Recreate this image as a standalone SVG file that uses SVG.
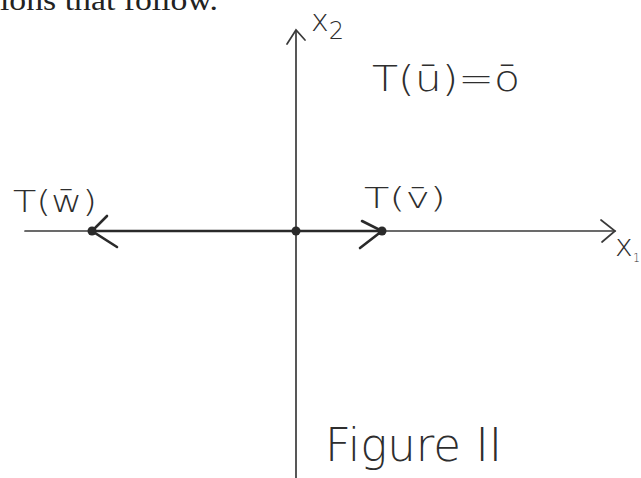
<svg xmlns="http://www.w3.org/2000/svg" width="641" height="478" viewBox="0 0 641 478">
<style>
.ax{stroke:#3a3a3a;stroke-width:1.7;fill:none;stroke-linecap:round}
.vec{stroke:#2a2a2a;stroke-width:2.6;fill:none;stroke-linecap:round}
.hw{font-family:"DejaVu Sans",sans-serif;fill:#2e2e2e;font-weight:300}
.pt{fill:#2a2a2a}
</style>
<rect width="641" height="478" fill="#ffffff"/>
<text x="0" y="10" font-family="Liberation Serif,serif" font-size="30" fill="#222" textLength="218" lengthAdjust="spacingAndGlyphs">ions that follow.</text>
<g id="connectors">
<path class="ax" d="M296,478 V31"/>
<path class="ax" d="M287,44 L296,30 L305,40"/>
<path class="ax" d="M25,231 H615"/>
<path class="ax" d="M601,220 L615,231 L602,242"/>
<path class="vec" d="M92,231 H382"/>
<path class="vec" d="M107,216 L92,231 L117,247"/>
<path class="vec" d="M362,221 L382,231 L360,248"/>
</g>
<g id="origin"><circle class="pt" cx="296" cy="231" r="4.5"/></g>
<g id="Tw"><circle class="pt" cx="92" cy="231" r="4.5"/>
<text class="hw" x="13" y="212" font-size="30" textLength="84" lengthAdjust="spacingAndGlyphs">T(w̄)</text></g>
<g id="Tv"><circle class="pt" cx="382" cy="231" r="4.5"/>
<text class="hw" x="364" y="208" font-size="29" textLength="82" lengthAdjust="spacingAndGlyphs">T(v̄)</text></g>
<g id="Tu"><text class="hw" x="372" y="91" font-size="36" textLength="148" lengthAdjust="spacingAndGlyphs">T(ū)=ō</text></g>
<g id="x2"><text class="hw" x="311" y="31" font-size="30">x<tspan font-size="24" dy="8">2</tspan></text></g>
<g id="x1"><text class="hw" x="615" y="256" font-size="30">x</text><text class="hw" x="633" y="262" font-size="13" textLength="7" lengthAdjust="spacingAndGlyphs">1</text></g>
<g id="figlabel"><text class="hw" x="325" y="461" font-size="46" textLength="177" lengthAdjust="spacingAndGlyphs">Figure II</text></g>
</svg>
